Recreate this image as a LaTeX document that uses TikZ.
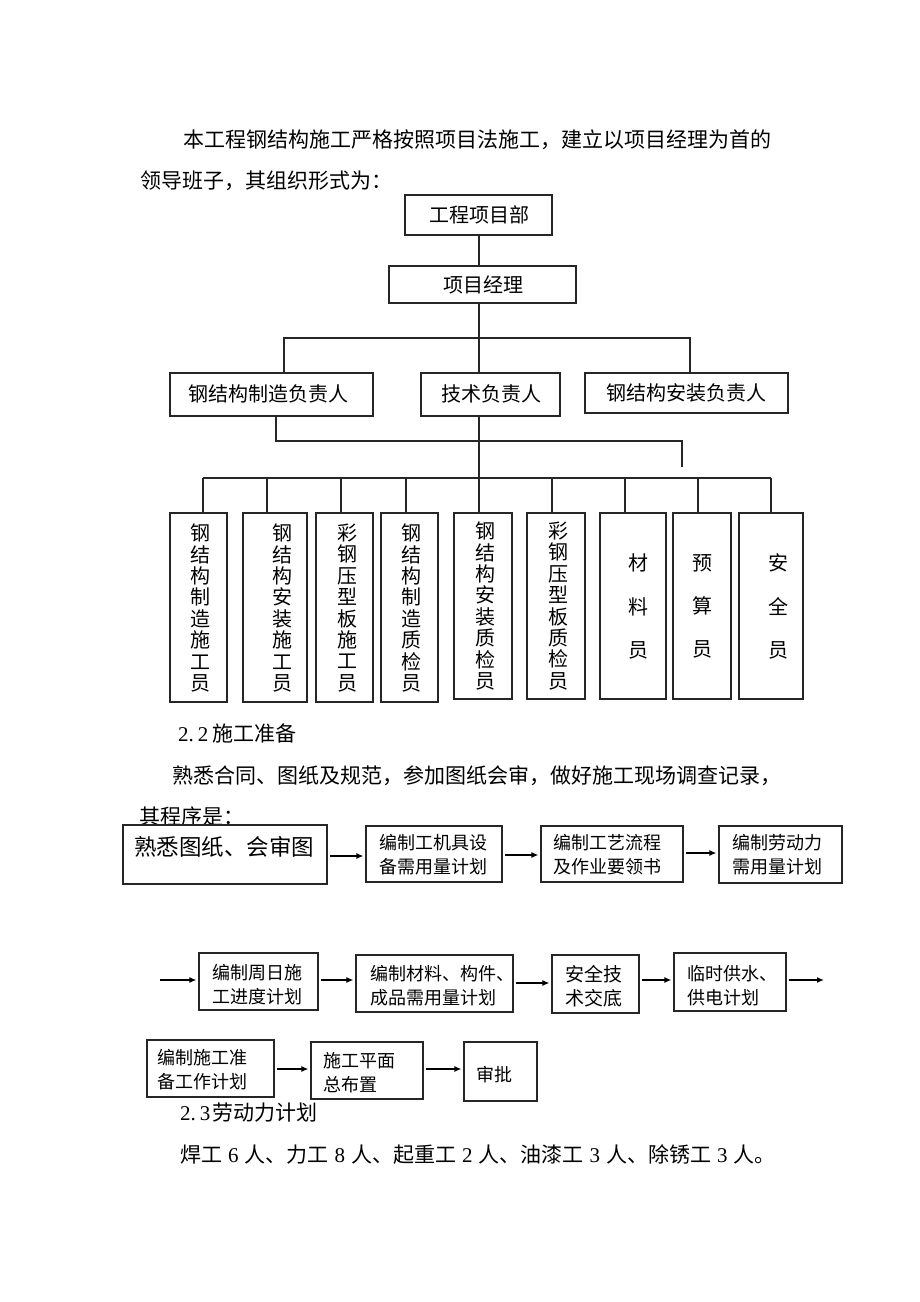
\documentclass[tikz,border=0pt]{standalone}
\usepackage{fontspec}
\setmainfont{Noto Sans CJK SC}
\newfontfamily\latinf{Liberation Serif}
\usetikzlibrary{arrows.meta}
\begin{document}
\begin{tikzpicture}[x=1pt,y=-1pt,
  box/.style={draw=black!85, line width=1.1pt, inner sep=0pt},
  ln/.style={draw=black!85, line width=1.1pt},
  arr/.style={draw=black, line width=1.6pt, -{Latex[length=7pt,width=6pt]}, shorten <=2pt, shorten >=2pt},
  body/.style={anchor=west, inner sep=0pt, font=\fontsize{21}{21}\selectfont},
  org/.style={inner sep=0pt, font=\fontsize{20}{20}\selectfont},
  vtxt/.style={inner sep=0pt, align=center, font=\fontsize{20}{21.4}\selectfont},
  vtxtb/.style={inner sep=0pt, align=center, font=\fontsize{20}{43.3}\selectfont},
  ptxt/.style={anchor=west, inner sep=0pt, align=left, font=\fontsize{18}{24}\selectfont}
]
\useasboundingbox[fill=white] (0,0) rectangle (920,1302);

% ---- intro text
\node[body] (l1) at (183,140) {本工程钢结构施工严格按照项目法施工，建立以项目经理为首的};
\node[body] (l2) at (140,181) {领导班子，其组织形式为：};

% ---- org chart boxes
\node[box, minimum width=147pt, minimum height=40pt] (dept) at (478.5,215) {};
\node[org] (deptT) at (479,215) {工程项目部};
\node[box, minimum width=187pt, minimum height=37pt] (pm) at (482.5,284.5) {};
\node[org] (pmT) at (483,285) {项目经理};
\node[box, minimum width=203pt, minimum height=43pt] (mfg) at (271.5,394.5) {};
\node[org] (mfgT) at (268,394) {钢结构制造负责人};
\node[box, minimum width=139pt, minimum height=43pt] (tech) at (490.5,394.5) {};
\node[org] (techT) at (491,394) {技术负责人};
\node[box, minimum width=203pt, minimum height=40pt] (inst) at (686.5,393) {};
\node[org] (instT) at (686,393) {钢结构安装负责人};

% bottom boxes
\node[box, minimum width=57pt, minimum height=189pt] (b1) at (198.5,607.5) {};
\node[box, minimum width=64pt, minimum height=189pt] (b2) at (275,607.5) {};
\node[box, minimum width=57pt, minimum height=189pt] (b3) at (344.5,607.5) {};
\node[box, minimum width=57pt, minimum height=189pt] (b4) at (409.5,607.5) {};
\node[box, minimum width=58pt, minimum height=186pt] (b5) at (483,606) {};
\node[box, minimum width=58pt, minimum height=186pt] (b6) at (556,606) {};
\node[box, minimum width=66pt, minimum height=186pt] (b7) at (633,606) {};
\node[box, minimum width=58pt, minimum height=186pt] (b8) at (702,606) {};
\node[box, minimum width=64pt, minimum height=186pt] (b9) at (771,606) {};

\node[vtxt] (t1) at (200.5,608) {钢\\结\\构\\制\\造\\施\\工\\员};
\node[vtxt] (t2) at (282,608) {钢\\结\\构\\安\\装\\施\\工\\员};
\node[vtxt] (t3) at (347,608) {彩\\钢\\压\\型\\板\\施\\工\\员};
\node[vtxt] (t4) at (411.5,608) {钢\\结\\构\\制\\造\\质\\检\\员};
\node[vtxt] (t5) at (485,606) {钢\\结\\构\\安\\装\\质\\检\\员};
\node[vtxt] (t6) at (558,606) {彩\\钢\\压\\型\\板\\质\\检\\员};
\node[vtxtb] (t7) at (638.5,606.5) {材\\料\\员};
\node[vtxtb] (t8) at (702.5,606.5) {预\\算\\员};
\node[vtxtb] (t9) at (778,606.5) {安\\全\\员};

% org connectors
\coordinate (cx) at (479,0);
\coordinate (barL) at (284,338);
\coordinate (barR) at (690,338);
\coordinate (m1) at (276,441);
\coordinate (m2) at (682,441);
\coordinate (m3) at (682,467);
\coordinate (d1) at (203,478);
\coordinate (d2) at (267,478);
\coordinate (d3) at (341,478);
\coordinate (d4) at (406,478);
\coordinate (d5) at (479,478);
\coordinate (d6) at (552,478);
\coordinate (d7) at (625,478);
\coordinate (d8) at (698,478);
\coordinate (d9) at (771,478);

\draw[ln] (cx |- dept.south) -- (cx |- pm.north);
\draw[ln] (cx |- pm.south) -- (cx |- tech.north);
\draw[ln] (mfg.north -| barL) -- (barL) -- (barR) -- (inst.north -| barR);
\draw[ln] (m1 |- mfg.south) -- (m1) -- (m2) -- (m3);
\draw[ln] (cx |- tech.south) -- (d5);
\draw[ln] (d1) -- (d9);
\foreach \i in {1,...,9} {\draw[ln] (d\i) -- (d\i |- b\i.north);}

% ---- section 2.2
\node[body] (s22) at (178,733) {{\latinf 2.\hspace{4pt}2}\hspace{4pt}施工准备};
\node[body] (l3) at (172,776) {熟悉合同、图纸及规范，参加图纸会审，做好施工现场调查记录，};
\node[body] (l4) at (139,816) {其程序是：};

% row 1
\node[box, minimum width=204pt, minimum height=59pt] (p1) at (225,854.5) {};
\node[anchor=west, inner sep=0pt, font=\fontsize{22.5}{22.5}\selectfont] (p1T) at (134,847) {熟悉图纸、会审图};
\node[box, minimum width=136pt, minimum height=56pt] (p2) at (434,854) {};
\node[ptxt] (p2T) at (379,855) {编制工机具设\\备需用量计划};
\node[box, minimum width=142pt, minimum height=56pt] (p3) at (612,854) {};
\node[ptxt] (p3T) at (553,855) {编制工艺流程\\及作业要领书};
\node[box, minimum width=123pt, minimum height=57pt] (p4) at (780.5,854.5) {};
\node[ptxt] (p4T) at (732,855) {编制劳动力\\需用量计划};

\coordinate (ya) at (0,856);
\coordinate (yb) at (0,855);
\coordinate (yc) at (0,853);
\draw[arr] (p1.east |- ya) -- (p2.west |- ya);
\draw[arr] (p2.east |- yb) -- (p3.west |- yb);
\draw[arr] (p3.east |- yc) -- (p4.west |- yc);

% row 2
\coordinate (s0) at (160,980);
\node[box, minimum width=119pt, minimum height=57pt] (q1) at (258.5,981.5) {};
\node[ptxt] (q1T) at (212,985) {编制周日施\\工进度计划};
\node[box, minimum width=157pt, minimum height=57pt] (q2) at (434.5,983.5) {};
\node[ptxt] (q2T) at (370,986) {编制材料、构件、\\成品需用量计划};
\node[box, minimum width=87pt, minimum height=58pt] (q3) at (595.5,984) {};
\node[ptxt, font=\fontsize{19}{24}\selectfont] (q3T) at (565,986) {安全技\\术交底};
\node[box, minimum width=112pt, minimum height=58pt] (q4) at (730,982) {};
\node[ptxt] (q4T) at (687,986) {临时供水、\\供电计划};
\coordinate (e0) at (824,980);
\coordinate (yd) at (0,983);

\draw[arr, shorten <=0pt] (s0) -- (s0 -| q1.west);
\draw[arr] (q1.east |- s0) -- (q2.west |- s0);
\draw[arr] (q2.east |- yd) -- (q3.west |- yd);
\draw[arr] (q3.east |- s0) -- (q4.west |- s0);
\draw[arr, shorten >=0pt] (q4.east |- e0) -- (e0);

% row 3
\node[box, minimum width=127pt, minimum height=57pt] (r1) at (210.5,1068.5) {};
\node[ptxt] (r1T) at (157,1070) {编制施工准\\备工作计划};
\node[box, minimum width=112pt, minimum height=57pt] (r2) at (367,1070.5) {};
\node[ptxt] (r2T) at (323,1073) {施工平面\\总布置};
\node[box, minimum width=73pt, minimum height=59pt] (r3) at (500.5,1071.5) {};
\node[ptxt] (r3T) at (476,1075) {审批};

\coordinate (ye) at (0,1069);
\draw[arr] (r1.east |- ye) -- (r2.west |- ye);
\draw[arr] (r2.east |- ye) -- (r3.west |- ye);

% ---- section 2.3
\node[body] (s23) at (180,1113) {{\latinf 2.\hspace{4pt}3}\hspace{2pt}劳动力计划};
\node[body] (l5) at (180,1155) {焊工\hspace{6pt}{\latinf 6}\hspace{6pt}人、力工\hspace{6pt}{\latinf 8}\hspace{6pt}人、起重工\hspace{6pt}{\latinf 2}\hspace{6pt}人、油漆工\hspace{6pt}{\latinf 3}\hspace{6pt}人、除锈工\hspace{6pt}{\latinf 3}\hspace{6pt}人。};
\end{tikzpicture}
\end{document}
